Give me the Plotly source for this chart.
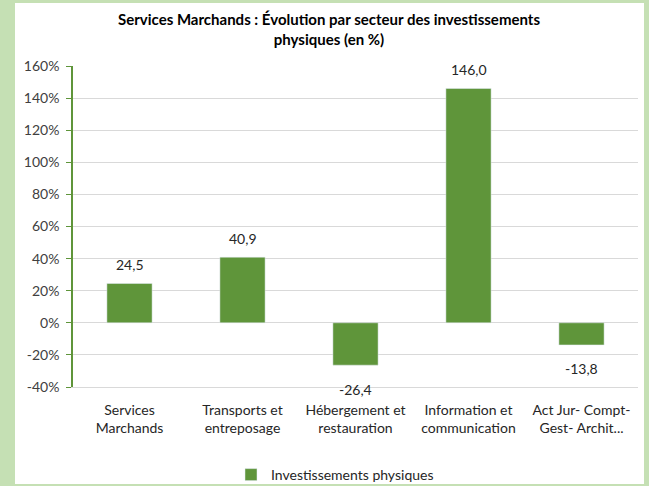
import plotly.graph_objects as go

categories = ["Services<br>Marchands", "Transports et<br>entreposage", "Hébergement et<br>restauration",
              "Information et<br>communication", "Act Jur- Compt-<br>Gest- Archit..."]
values = [24.5, 40.9, -26.4, 146.0, -13.8]
series_name = "Investissements physiques"
title_text = "Services Marchands : Évolution par secteur des investissements<br>physiques (en %)"
y_ticks = [-40, -20, 0, 20, 40, 60, 80, 100, 120, 140, 160]

BAR = "#5F953A"
GRID = "#D9D9D9"
FONT = "Lato, 'Liberation Sans', sans-serif"

# plot area in pixels
W, H = 649, 486
L, R, T, B = 73, 11, 66, 99
pw, ph = W - L - R, H - T - B

def px_x(x):
    return (x - L) / pw

def px_y(y):
    return (H - B - y) / ph

fig = go.Figure()
fig.add_trace(go.Bar(x=categories, y=values, name=series_name, marker_color=BAR,
                     width=0.4, showlegend=True))

for c, v in zip(categories, values):
    fig.add_annotation(x=c, y=v, text=f"{v:.1f}".replace(".", ","), showarrow=False,
                       yanchor="middle", yshift=19 if v >= 0 else -24,
                       font=dict(size=14, color="#262626", family=FONT))

fig.add_shape(type="rect", xref="paper", yref="paper", layer="below",
              x0=px_x(15), x1=px_x(644), y0=px_y(484), y1=px_y(3),
              fillcolor="white", line=dict(width=0))

fig.update_layout(
    width=W, height=H,
    margin=dict(l=L, r=R, t=T, b=B, autoexpand=False),
    paper_bgcolor="#C5E0B4",
    plot_bgcolor="white",
    font=dict(family=FONT, size=14, color="#262626"),
    title=dict(text="<b>" + title_text + "</b>", x=329 / W, xanchor="center",
               y=1 - 25 / H, yanchor="middle", font=dict(size=15, color="#000000")),
    showlegend=True,
    legend=dict(orientation="h", x=px_x(335), xanchor="center", y=px_y(475), yanchor="middle",
                font=dict(size=14, color="#262626"), bgcolor="rgba(0,0,0,0)"),
    bargap=0.6,
)
fig.update_yaxes(range=[-40, 160], tickvals=y_ticks, ticktext=[f"{t}%" for t in y_ticks],
                 showgrid=True, gridcolor=GRID, gridwidth=1, zeroline=False,
                 showline=True, linecolor=BAR, linewidth=1.5, ticks="outside", ticklen=5,
                 tickcolor=BAR, tickfont=dict(size=14, color="#404040"), ticklabelstandoff=4)
fig.update_xaxes(showgrid=False, showline=True, linecolor=GRID, linewidth=1, ticks="",
                 tickfont=dict(size=14, color="#262626"), ticklabelstandoff=10, tickangle=0)

fig.write_html("out.html", config={"displayModeBar": False},
               post_script="document.body.style.margin='0';")
